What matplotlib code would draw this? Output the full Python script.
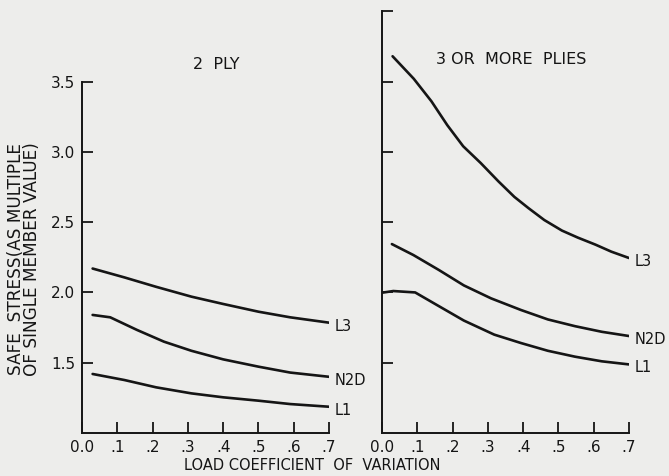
import numpy as np
import matplotlib.pyplot as plt

# values (x = load coefficient of variation)
ply2_l3_x = [0.03, 0.12, 0.21, 0.31, 0.40, 0.50, 0.59, 0.70]
ply2_l3 = [2.17, 2.107, 2.04, 1.97, 1.918, 1.863, 1.823, 1.785]
ply2_n2d_x = [0.03, 0.08, 0.156, 0.232, 0.31, 0.40, 0.50, 0.59, 0.70]
ply2_n2d = [1.84, 1.823, 1.733, 1.65, 1.585, 1.524, 1.472, 1.43, 1.40]
ply2_l1_x = [0.03, 0.12, 0.21, 0.31, 0.40, 0.50, 0.59, 0.70]
ply2_l1 = [1.42, 1.377, 1.325, 1.282, 1.254, 1.23, 1.206, 1.187]

ply3_l3_x = [0.03, 0.09, 0.14, 0.185, 0.23, 0.28, 0.33, 0.375, 0.415, 0.46,
             0.51, 0.555, 0.605, 0.65, 0.70]
ply3_l3 = [3.68, 3.52, 3.36, 3.19, 3.04, 2.92, 2.79, 2.68, 2.60, 2.515,
           2.44, 2.39, 2.34, 2.29, 2.245]
ply3_n2d_x = [0.028, 0.089, 0.161, 0.232, 0.309, 0.394, 0.47, 0.547, 0.623, 0.70]
ply3_n2d = [2.344, 2.266, 2.16, 2.05, 1.958, 1.875, 1.808, 1.76, 1.72, 1.69]
ply3_l1_x = [0.0, 0.032, 0.094, 0.156, 0.232, 0.318, 0.394, 0.47, 0.547, 0.623, 0.70]
ply3_l1 = [1.998, 2.01, 2.0, 1.91, 1.80, 1.70, 1.64, 1.585, 1.543, 1.51, 1.488]

x_ticks = [0.0, 0.1, 0.2, 0.3, 0.4, 0.5, 0.6, 0.7]
x_ticklabels = ["0.0", ".1", ".2", ".3", ".4", ".5", ".6", ".7"]
y_ticks = [1.5, 2.0, 2.5, 3.0, 3.5]
y_ticklabels = ["1.5", "2.0", "2.5", "3.0", "3.5"]
curve_names = ["L3", "N2D", "L1"]

plt.rcParams['font.family'] = 'DejaVu Sans'
ink = '#151515'
paper = '#ededeb'

fig = plt.figure(figsize=(6.69, 4.76), dpi=100, facecolor=paper)
ax1 = fig.add_axes([0.1226, 0.0903, 0.3692, 0.886])
ax2 = fig.add_axes([0.5710, 0.0903, 0.3692, 0.886])

panels = [
    (ax1, [(ply2_l3_x, ply2_l3), (ply2_n2d_x, ply2_n2d), (ply2_l1_x, ply2_l1)],
     "2  PLY", 3.5, 0.38, 3.62),
    (ax2, [(ply3_l3_x, ply3_l3), (ply3_n2d_x, ply3_n2d), (ply3_l1_x, ply3_l1)],
     "3 OR  MORE  PLIES", 4.0, 0.366, 3.66),
]

for ax, series, title, ytop, tx, ty in panels:
    ax.set_facecolor(paper)
    ax.set_xlim(0, 0.7)
    ax.set_ylim(1.0, 4.0)
    for side in ['top', 'right']:
        ax.spines[side].set_visible(False)
    ax.spines['left'].set_bounds(1.0, ytop)
    ax.spines['bottom'].set_bounds(0, 0.7)
    for side in ['left', 'bottom']:
        ax.spines[side].set_color(ink)
        ax.spines[side].set_linewidth(1.4)
    ax.set_xticks(x_ticks)
    ax.set_xticklabels(x_ticklabels)
    ax.set_yticks(y_ticks + ([ytop] if ytop > 3.5 else []))
    ax.tick_params(direction='in', length=8, width=1.3, color=ink,
                   labelcolor=ink, labelsize=11, pad=5)
    for (xs, vals), name in zip(series, curve_names):
        ax.plot(xs, vals, color=ink, lw=1.9, solid_capstyle='round',
                solid_joinstyle='round')
        ax.text(0.715, vals[-1] - 0.025, name, color=ink, fontsize=10.5,
                ha='left', va='center', clip_on=False)
    ax.text(tx, ty, title, color=ink, fontsize=11.5, ha='center', va='center')

ax1.set_yticklabels(y_ticklabels)
ax2.set_yticklabels([])
ax1.set_ylabel("SAFE  STRESS(AS MULTIPLE\nOF SINGLE MEMBER VALUE)",
               color=ink, fontsize=12.2, linespacing=0.82)
ax1.yaxis.set_label_coords(-0.168, 0.413)
fig.text(0.466, 0.006, "LOAD COEFFICIENT  OF  VARIATION", color=ink,
         fontsize=10.5, ha='center', va='bottom')

fig.savefig("out.png", dpi=100, facecolor=paper)
